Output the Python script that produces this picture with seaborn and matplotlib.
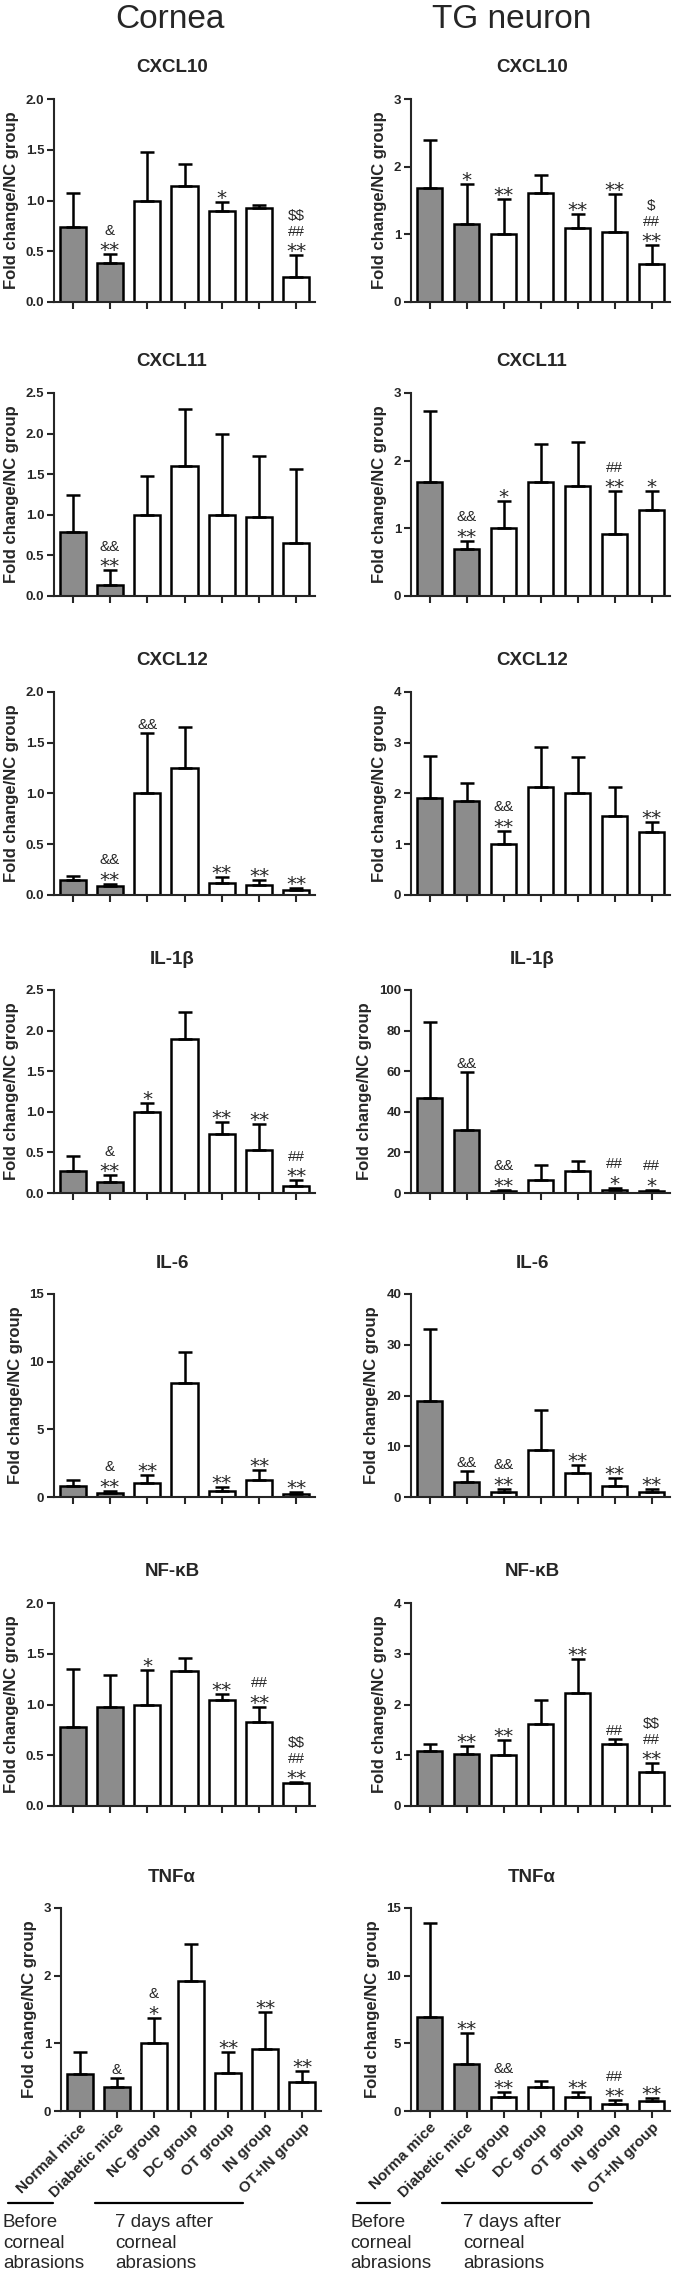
import numpy as np
import pandas as pd
import seaborn as sns
import matplotlib.pyplot as plt
from matplotlib.lines import Line2D

W, H = 675, 2274

groups_cornea = ["Normal mice", "Diabetic mice", "NC group", "DC group",
                 "OT group", "IN group", "OT+IN group"]
groups_tg = ["Norma mice", "Diabetic mice", "NC group", "DC group",
             "OT group", "IN group", "OT+IN group"]
genes = ["CXCL10", "CXCL11", "CXCL12", "IL-1β", "IL-6", "NF-κB", "TNFα"]

# cornea: mean, SD (upper only), significance marks (bottom/top)
cxcl10_cornea = [0.74, 0.38, 1.0, 1.14, 0.90, 0.93, 0.25]
cxcl10_cornea_sd = [0.33, 0.09, 0.48, 0.22, 0.09, 0.03, 0.21]
cxcl10_cornea_sig = ["", "**/&", "", "", "*", "", "**/##/$$"]

cxcl11_cornea = [0.79, 0.14, 1.0, 1.60, 1.0, 0.97, 0.65]
cxcl11_cornea_sd = [0.45, 0.18, 0.48, 0.70, 0.99, 0.75, 0.92]
cxcl11_cornea_sig = ["", "**/&&", "", "", "", "", ""]

cxcl12_cornea = [0.15, 0.086, 1.0, 1.25, 0.12, 0.095, 0.05]
cxcl12_cornea_sd = [0.04, 0.024, 0.60, 0.41, 0.06, 0.055, 0.02]
cxcl12_cornea_sig = ["", "**/&&", "&&", "", "**", "**", "**"]

il1b_cornea = [0.27, 0.14, 1.0, 1.90, 0.73, 0.53, 0.09]
il1b_cornea_sd = [0.19, 0.08, 0.11, 0.33, 0.15, 0.32, 0.07]
il1b_cornea_sig = ["", "**/&", "*", "", "**", "**", "**/##"]

il6_cornea = [0.82, 0.30, 1.05, 8.43, 0.42, 1.24, 0.22]
il6_cornea_sd = [0.46, 0.17, 0.55, 2.32, 0.35, 0.74, 0.13]
il6_cornea_sig = ["", "**/&", "**", "", "**", "**", "**"]

nfkb_cornea = [0.78, 0.98, 1.0, 1.33, 1.04, 0.83, 0.226]
nfkb_cornea_sd = [0.57, 0.31, 0.34, 0.13, 0.06, 0.15, 0.008]
nfkb_cornea_sig = ["", "", "*", "", "**", "**/##", "**/##/$$"]

tnfa_cornea = [0.55, 0.36, 1.0, 1.92, 0.56, 0.91, 0.43]
tnfa_cornea_sd = [0.32, 0.13, 0.38, 0.55, 0.315, 0.55, 0.16]
tnfa_cornea_sig = ["", "&", "*/&", "", "**", "**", "**"]

# TG neuron
cxcl10_tg = [1.69, 1.15, 1.0, 1.61, 1.10, 1.03, 0.56]
cxcl10_tg_sd = [0.70, 0.60, 0.52, 0.26, 0.20, 0.57, 0.28]
cxcl10_tg_sig = ["", "*", "**", "", "**", "**", "**/##/$"]

cxcl11_tg = [1.68, 0.69, 1.0, 1.68, 1.63, 0.91, 1.27]
cxcl11_tg_sd = [1.06, 0.13, 0.40, 0.57, 0.64, 0.64, 0.28]
cxcl11_tg_sig = ["", "**/&&", "*", "", "", "**/##", "*"]

cxcl12_tg = [1.91, 1.86, 1.0, 2.12, 2.0, 1.56, 1.24]
cxcl12_tg_sd = [0.82, 0.34, 0.27, 0.79, 0.71, 0.56, 0.19]
cxcl12_tg_sig = ["", "", "**/&&", "", "", "", "**"]

il1b_tg = [47, 31, 1.0, 6.6, 11, 1.6, 1.1]
il1b_tg_sd = [37, 28.7, 0.5, 7.2, 5, 0.9, 0.5]
il1b_tg_sig = ["", "&&", "**/&&", "", "", "*/##", "*/##"]

il6_tg = [19, 2.95, 1.0, 9.3, 4.8, 2.2, 1.0]
il6_tg_sd = [14.2, 2.25, 0.6, 7.9, 1.6, 1.6, 0.6]
il6_tg_sig = ["", "&&", "**/&&", "", "**", "**", "**"]

nfkb_tg = [1.08, 1.03, 1.0, 1.61, 2.23, 1.23, 0.675]
nfkb_tg_sd = [0.14, 0.16, 0.30, 0.47, 0.66, 0.09, 0.165]
nfkb_tg_sig = ["", "**", "**", "", "**", "##", "**/##/$$"]

tnfa_tg = [6.98, 3.5, 1.0, 1.8, 1.0, 0.54, 0.75]
tnfa_tg_sd = [6.88, 2.3, 0.4, 0.4, 0.4, 0.26, 0.23]
tnfa_tg_sig = ["", "**", "**/&&", "", "**", "**/##", "**"]

cornea_ymax = [2.0, 2.5, 2.0, 2.5, 15, 2.0, 3]
cornea_ystep = [0.5, 0.5, 0.5, 0.5, 5, 0.5, 1]
tg_ymax = [3, 3, 4, 100, 40, 4, 15]
tg_ystep = [1, 1, 1, 20, 10, 1, 5]

cornea_data = [
    (cxcl10_cornea, cxcl10_cornea_sd, cxcl10_cornea_sig),
    (cxcl11_cornea, cxcl11_cornea_sd, cxcl11_cornea_sig),
    (cxcl12_cornea, cxcl12_cornea_sd, cxcl12_cornea_sig),
    (il1b_cornea, il1b_cornea_sd, il1b_cornea_sig),
    (il6_cornea, il6_cornea_sd, il6_cornea_sig),
    (nfkb_cornea, nfkb_cornea_sd, nfkb_cornea_sig),
    (tnfa_cornea, tnfa_cornea_sd, tnfa_cornea_sig),
]
tg_data = [
    (cxcl10_tg, cxcl10_tg_sd, cxcl10_tg_sig),
    (cxcl11_tg, cxcl11_tg_sd, cxcl11_tg_sig),
    (cxcl12_tg, cxcl12_tg_sd, cxcl12_tg_sig),
    (il1b_tg, il1b_tg_sd, il1b_tg_sig),
    (il6_tg, il6_tg_sd, il6_tg_sig),
    (nfkb_tg, nfkb_tg_sd, nfkb_tg_sig),
    (tnfa_tg, tnfa_tg_sd, tnfa_tg_sig),
]

bar_colors = ["#8c8c8c", "#8c8c8c", "white", "white", "white", "white", "white"]

# layout in pixels (top of axes, panel height)
row_tops = [99, 393, 692, 990, 1294, 1603, 1908]
panel_h = 203
PX = 100 / 72.0

sns.set_style("ticks")
plt.rcParams["font.family"] = ["Liberation Sans", "DejaVu Sans"]
plt.rcParams["axes.linewidth"] = 1.5


def fx(px):
    return px / W


def fy(py):
    return 1 - py / H


def draw_panel(ax, gene, labels, mean, sd, sig, ymax, ystep, show_x, title_x):
    df = pd.DataFrame({"group": labels, "value": mean})
    sns.barplot(data=df, x="group", y="value", hue="group", palette=bar_colors,
                edgecolor="black", linewidth=1.8, width=0.7, legend=False,
                errorbar=None, ax=ax)
    ax.errorbar(np.arange(7), mean, yerr=[np.zeros(7), sd], fmt="none",
                ecolor="black", elinewidth=1.8, capsize=5, capthick=1.8, zorder=1)
    ax.set_ylim(0, ymax)
    ax.set_yticks(np.arange(0, ymax + ystep / 2, ystep))
    if ystep < 1:
        ax.set_yticklabels([f"{v:.1f}" for v in ax.get_yticks()])
    else:
        ax.set_yticklabels([f"{v:.0f}" for v in ax.get_yticks()])
    ax.set_xlim(-0.5, 6.5)
    sns.despine(ax=ax)
    ax.tick_params(axis="both", direction="out", length=5, width=1.5,
                   labelsize=9.5, pad=2)
    for t in ax.get_yticklabels():
        t.set_fontweight("bold")
    ax.set_xlabel("")
    ax.set_xticks(range(7))
    if show_x:
        ax.set_xticklabels(labels, rotation=45, ha="right", rotation_mode="anchor",
                           fontweight="bold", fontsize=11)
    else:
        ax.set_xticklabels([])
    ax.set_ylabel("Fold change/NC group", fontsize=12, fontweight="bold", labelpad=5)

    top_px = H - ax.get_position().y1 * H
    fig.text(fx(title_x), fy(top_px - 31), gene, ha="center", va="center",
             fontsize=13.5, fontweight="bold")

    for i, s in enumerate(sig):
        if not s:
            continue
        top = mean[i] + sd[i]
        for k, sym in enumerate(s.split("/")):
            if "*" in sym:
                ax.annotate(sym, (i, top), xytext=(0, (16 * k - 2) / PX),
                            textcoords="offset points", ha="center", va="baseline",
                            fontsize=14.5, family="DejaVu Sans")
            else:
                ax.annotate(sym.replace("$", r"\$"), (i, top),
                            xytext=(0, (4 + 15.5 * k) / PX),
                            textcoords="offset points", ha="center", va="baseline",
                            fontsize=11)


fig = plt.figure(figsize=(W / 100, H / 100), dpi=100)

fig.text(fx(170), fy(20), "Cornea", ha="center", va="center", fontsize=24)
fig.text(fx(512), fy(20), "TG neuron", ha="center", va="center", fontsize=24)

for r in range(7):
    top = row_tops[r]
    bottom = top + panel_h
    last = r == 6
    lx0, lx1 = (61, 321) if last else (54, 315)
    ax_l = fig.add_axes([fx(lx0), fy(bottom), fx(lx1 - lx0), panel_h / H])
    m, s, g = cornea_data[r]
    draw_panel(ax_l, genes[r], groups_cornea, m, s, g, cornea_ymax[r],
               cornea_ystep[r], last, 172)
    ax_r = fig.add_axes([fx(411), fy(bottom), fx(670 - 411), panel_h / H])
    m, s, g = tg_data[r]
    draw_panel(ax_r, genes[r], groups_tg, m, s, g, tg_ymax[r], tg_ystep[r],
               last, 532)

# group brackets under the bottom row
line_y = 2203
for x0, x1 in [(8, 53), (95, 243), (357, 390), (442, 592)]:
    fig.add_artist(Line2D([fx(x0), fx(x1)], [fy(line_y), fy(line_y)],
                          transform=fig.transFigure, color="black", lw=1.6))
note_lines = [["Before", "corneal", "abrasions"], ["7 days after", "corneal", "abrasions"]]
note_x = [(3, 115), (350, 463)]
for xs in note_x:
    for x, lines in zip(xs, note_lines):
        for j, line in enumerate(lines):
            fig.text(fx(x), fy(2227 + 20.5 * j), line, ha="left", va="baseline",
                     fontsize=13.5)

fig.savefig("out.png", dpi=100)
